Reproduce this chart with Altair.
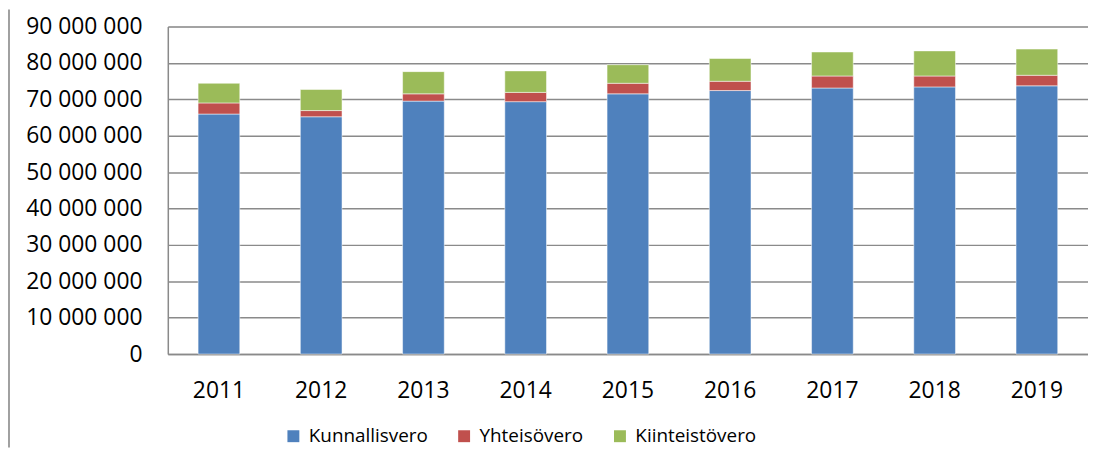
import altair as alt
import pandas as pd

years = ["2011", "2012", "2013", "2014", "2015", "2016", "2017", "2018", "2019"]
series = ["Kunnallisvero", "Yhteisövero", "Kiinteistövero"]
colors = ["#4F81BD", "#C0504D", "#9BBB59"]

kunnallisvero = [65_950_000, 65_200_000, 69_500_000, 69_350_000, 71_500_000,
                 72_400_000, 73_100_000, 73_400_000, 73_700_000]
yhteisovero = [3_050_000, 1_700_000, 2_000_000, 2_550_000, 2_900_000,
               2_550_000, 3_300_000, 3_000_000, 2_900_000]
kiinteistovero = [5_400_000, 5_800_000, 6_100_000, 5_900_000, 5_100_000,
                  6_250_000, 6_600_000, 6_900_000, 7_200_000]

y_ticks = [0, 10_000_000, 20_000_000, 30_000_000, 40_000_000, 50_000_000,
           60_000_000, 70_000_000, 80_000_000, 90_000_000]

rows = []
for i, y in enumerate(years):
    for j, (name, vals) in enumerate(zip(series, [kunnallisvero, yhteisovero, kiinteistovero])):
        rows.append({"vuosi": y, "sarja": name, "arvo": vals[i], "jarj": j})
df = pd.DataFrame(rows)

FONT = "Open Sans"

bars = alt.Chart(df).mark_bar(
    size=42, stroke="white", strokeWidth=1, strokeOpacity=0.5
).encode(
    x=alt.X(
        "vuosi:N", sort=years,
        scale=alt.Scale(paddingInner=0, paddingOuter=0),
        axis=alt.Axis(title=None, labelAngle=0, labelFontSize=23, labelFont=FONT,
                      labelColor="black", labelPadding=26, ticks=False,
                      domainColor="#8a8a8a", domainWidth=1.5, grid=False),
    ),
    y=alt.Y(
        "arvo:Q", stack="zero",
        scale=alt.Scale(domain=[0, 90_000_000], nice=False),
        axis=alt.Axis(title=None, values=y_ticks,
                      labelExpr="replace(format(datum.value, ','), /,/g, ' ')",
                      labelFontSize=23, labelFont=FONT, labelColor="black",
                      labelPadding=26, ticks=False, domainColor="#8a8a8a",
                      domainWidth=1.5, grid=True, gridColor="#8a8a8a",
                      gridWidth=1.5),
    ),
    color=alt.Color(
        "sarja:N",
        scale=alt.Scale(domain=series, range=colors),
        legend=alt.Legend(title=None, orient="none", direction="horizontal",
                          legendX=117, legendY=403, symbolType="square",
                          symbolSize=144, labelFontSize=19, labelFont=FONT,
                          labelColor="black", columnPadding=27, labelOffset=6,
                          padding=0, symbolStrokeWidth=0),
    ),
    order=alt.Order("jarj:Q", sort="ascending"),
)

border = alt.Chart(pd.DataFrame({"a": [0]})).mark_rule(
    color="#a0a0a0", strokeWidth=2
).encode(x=alt.value(-160), y=alt.value(-17), y2=alt.value(424))

chart = alt.layer(bars, border).properties(
    width=927, height=330,
    autosize=alt.AutoSizeParams(type="none"),
    padding={"left": 161, "top": 17, "right": 0, "bottom": 94},
).configure_view(strokeWidth=0).configure(font=FONT)

chart.save("out.html", embed_options={"renderer": "svg", "actions": False})
